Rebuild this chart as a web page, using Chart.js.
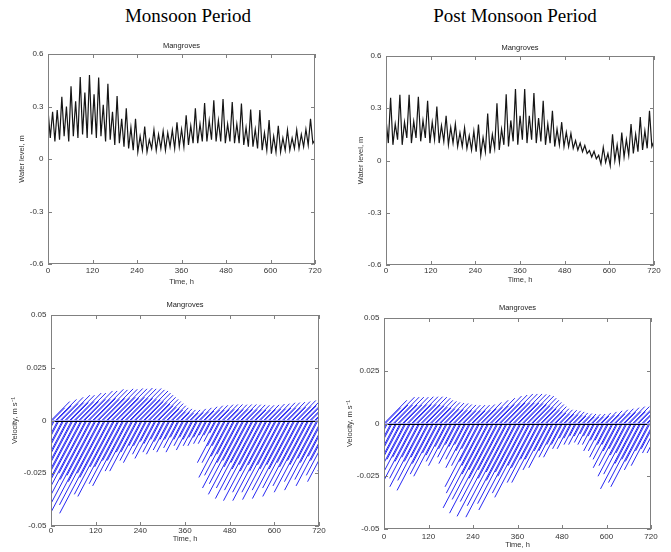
<!DOCTYPE html>
<html>
<head>
<meta charset="utf-8">
<script src="https://cdn.jsdelivr.net/npm/chart.js@4.4.1/dist/chart.umd.min.js"></script>
<style>
    body { margin: 0; background: #fff; width: 671px; height: 552px; position: relative; overflow: hidden; }
    .period { position: absolute; font-family: "Liberation Serif", "Times New Roman", serif; font-size: 19px; line-height: 19px; color: #000; white-space: nowrap; transform: translateX(-50%); }
    canvas { position: absolute; }
</style>
</head>
<body>
<div class="period" style="left:188px; top:6px;">Monsoon Period</div>
<div class="period" style="left:515px; top:6px;">Post Monsoon Period</div>
<canvas id="wlMonsoon"></canvas>
<canvas id="wlPost"></canvas>
<canvas id="velMonsoon"></canvas>
<canvas id="velPost"></canvas>
<script>
// time of each high / low water (h), shared by all panels
const tideHours = [0, 6.2, 12.4, 18.6, 24.8, 31.1, 37.3, 43.5, 49.7, 55.9, 62.1, 68.3, 74.5, 80.7, 86.9, 93.2, 99.4, 105.6, 111.8, 118.0,
    124.2, 130.4, 136.6, 142.8, 149.0, 155.3, 161.5, 167.7, 173.9, 180.1, 186.3, 192.5, 198.7, 204.9, 211.1, 217.4, 223.6, 229.8, 236.0, 242.2,
    248.4, 254.6, 260.8, 267.0, 273.2, 279.5, 285.7, 291.9, 298.1, 304.3, 310.5, 316.7, 322.9, 329.1, 335.3, 341.6, 347.8, 354.0, 360.2, 366.4,
    372.6, 378.8, 385.0, 391.2, 397.4, 403.7, 409.9, 416.1, 422.3, 428.5, 434.7, 440.9, 447.1, 453.3, 459.5, 465.8, 472.0, 478.2, 484.4, 490.6,
    496.8, 503.0, 509.2, 515.4, 521.6, 527.9, 534.1, 540.3, 546.5, 552.7, 558.9, 565.1, 571.3, 577.5, 583.7, 590.0, 596.2, 602.4, 608.6, 614.8,
    621.0, 627.2, 633.4, 639.6, 645.8, 652.1, 658.3, 664.5, 670.7, 676.9, 683.1, 689.3, 695.5, 701.7, 707.9, 714.2, 720.0,
    726.6, 732.8, 739.0, 745.2, 751.4, 757.6, 763.9, 770.1, 776.3, 782.5, 788.7, 794.9, 801.1];
// in-between sampling times for the weaker velocity arrows (h)
const quarterHours = [3.1, 9.3, 15.5, 21.7, 27.9, 34.2, 40.4, 46.6, 52.8, 59.0, 65.2, 71.4, 77.6, 83.8, 90.0, 96.3, 102.5, 108.7, 114.9, 121.1,
    127.3, 133.5, 139.7, 145.9, 152.1, 158.4, 164.6, 170.8, 177.0, 183.2, 189.4, 195.6, 201.8, 208.0, 214.2, 220.5, 226.7, 232.9, 239.1, 245.3,
    251.5, 257.7, 263.9, 270.1, 276.3, 282.6, 288.8, 295.0, 301.2, 307.4, 313.6, 319.8, 326.0, 332.2, 338.4, 344.7, 350.9, 357.1, 363.3, 369.5,
    375.7, 381.9, 388.1, 394.3, 400.5, 406.8, 413.0, 419.2, 425.4, 431.6, 437.8, 444.0, 450.2, 456.4, 462.6, 468.9, 475.1, 481.3, 487.5, 493.7,
    499.9, 506.1, 512.3, 518.5, 524.7, 531.0, 537.2, 543.4, 549.6, 555.8, 562.0, 568.2, 574.4, 580.6, 586.8, 593.1, 599.3, 605.5, 611.7, 617.9,
    624.1, 630.3, 636.5, 642.7, 648.9, 655.2, 661.4, 667.6, 673.8, 680.0, 686.2, 692.4, 698.6, 704.8, 711.0, 717.3, 723.5,
    729.7, 735.9, 742.1, 748.3, 754.5, 760.7, 767.0, 773.2, 779.4, 785.6, 791.8, 798.0, 804.2];

// water level (m): highs at even tideHours, lows at odd tideHours
const monsoonHigh = [0.28, 0.27, 0.28, 0.355, 0.30, 0.415, 0.33, 0.468, 0.38, 0.48, 0.37, 0.465, 0.31, 0.43, 0.27, 0.36, 0.23, 0.29, 0.18, 0.23,
    0.13, 0.185, 0.11, 0.166, 0.14, 0.16, 0.15, 0.165, 0.21, 0.17, 0.25, 0.19, 0.29, 0.20, 0.32, 0.22, 0.336, 0.22, 0.343, 0.20,
    0.326, 0.20, 0.317, 0.18, 0.283, 0.17, 0.28, 0.15, 0.223, 0.13, 0.19, 0.12, 0.166, 0.12, 0.166, 0.14, 0.17, 0.23, 0.11];
const monsoonLow = [0.12, 0.10, 0.11, 0.13, 0.10, 0.13, 0.12, 0.14, 0.12, 0.14, 0.12, 0.13, 0.10, 0.11, 0.08, 0.09, 0.07, 0.06, 0.05, 0.04,
    0.05, 0.04, 0.06, 0.05, 0.06, 0.05, 0.07, 0.06, 0.07, 0.07, 0.08, 0.09, 0.09, 0.10, 0.10, 0.11, 0.10, 0.10, 0.09, 0.10,
    0.09, 0.09, 0.08, 0.07, 0.07, 0.06, 0.05, 0.05, 0.03, 0.04, 0.04, 0.05, 0.05, 0.06, 0.06, 0.07, 0.08, 0.09];
const postHigh = [0.24, 0.36, 0.21, 0.377, 0.22, 0.377, 0.225, 0.366, 0.23, 0.343, 0.22, 0.31, 0.20, 0.257, 0.19, 0.21, 0.16, 0.187, 0.143, 0.168,
    0.206, 0.133, 0.27, 0.15, 0.328, 0.18, 0.38, 0.23, 0.41, 0.257, 0.41, 0.257, 0.387, 0.244, 0.343, 0.21, 0.286, 0.18, 0.22, 0.162,
    0.156, 0.114, 0.10, 0.086, 0.057, 0.053, 0.03, 0.076, 0.04, 0.15, 0.09, 0.16, 0.12, 0.21, 0.15, 0.25, 0.17, 0.285, 0.11];
const postLow = [0.10, 0.09, 0.12, 0.09, 0.13, 0.10, 0.13, 0.11, 0.13, 0.10, 0.12, 0.10, 0.11, 0.09, 0.10, 0.08, 0.08, 0.07, 0.06, 0.05,
    0.03, 0.05, 0.04, 0.07, 0.06, 0.09, 0.08, 0.11, 0.09, 0.12, 0.10, 0.12, 0.10, 0.11, 0.09, 0.10, 0.08, 0.09, 0.08, 0.08,
    0.07, 0.06, 0.05, 0.04, 0.02, 0.01, -0.02, -0.01, -0.03, 0.00, -0.01, 0.02, 0.03, 0.04, 0.05, 0.06, 0.07, 0.08];

// velocity (m/s): strong flood arrows at even tideHours, strong ebb arrows at odd tideHours
const monsoonFlood = [0.009, 0.010, 0.011, 0.012, 0.012, 0.013, 0.013, 0.014, 0.014, 0.0148, 0.0145, 0.015, 0.0148, 0.0152, 0.015, 0.0154, 0.015, 0.0152, 0.0145, 0.014,
    0.013, 0.012, 0.011, 0.010, 0.009, 0.008, 0.007, 0.006, 0.0055, 0.005, 0.005, 0.0055, 0.006, 0.0065, 0.007, 0.0072, 0.0075, 0.0076, 0.0076, 0.0075,
    0.0076, 0.0076, 0.0075, 0.0074, 0.0072, 0.0072, 0.0074, 0.0078, 0.008, 0.0084, 0.0085, 0.0087, 0.009, 0.0095, 0.010, 0.0105, 0.011, 0.011, 0.0115];
const monsoonEbb = [-0.036, -0.033, -0.040, -0.036, -0.042, -0.038, -0.044, -0.040, -0.045, -0.041, -0.046, -0.040, -0.044, -0.035, -0.036, -0.030, -0.031, -0.024, -0.024, -0.019,
    -0.020, -0.016, -0.018, -0.015, -0.016, -0.014, -0.015, -0.013, -0.015, -0.012, -0.014, -0.012, -0.012, -0.011, -0.011, -0.010, -0.020, -0.020, -0.027, -0.026,
    -0.032, -0.030, -0.035, -0.032, -0.037, -0.033, -0.038, -0.034, -0.038, -0.034, -0.0375, -0.033, -0.037, -0.032, -0.036, -0.031, -0.034, -0.029, -0.033, -0.028,
    -0.031, -0.026, -0.029, -0.024, -0.027];
const postFlood = [0.011, 0.0125, 0.0125, 0.0125, 0.0125, 0.0127, 0.0127, 0.0127, 0.0125, 0.012, 0.011, 0.0105, 0.010, 0.0097, 0.0095, 0.009, 0.0088, 0.0087, 0.0087, 0.0087,
    0.009, 0.010, 0.011, 0.012, 0.013, 0.0135, 0.014, 0.014, 0.014, 0.0138, 0.0135, 0.013, 0.012, 0.011, 0.010, 0.009, 0.008, 0.007, 0.0065, 0.0063,
    0.006, 0.0055, 0.005, 0.0047, 0.0045, 0.0044, 0.0045, 0.005, 0.0055, 0.006, 0.0065, 0.007, 0.0075, 0.008, 0.008, 0.0078, 0.0075, 0.007, 0.006];
const postEbb = [-0.026, -0.023, -0.028, -0.025, -0.029, -0.026, -0.030, -0.026, -0.030, -0.027, -0.0317, -0.024, -0.025, -0.018, -0.020, -0.016, -0.019, -0.017, -0.021, -0.020,
    -0.030, -0.033, -0.040, -0.036, -0.0425, -0.037, -0.044, -0.039, -0.0444, -0.038, -0.041, -0.033, -0.035, -0.028, -0.028, -0.022, -0.021, -0.016, -0.016, -0.012,
    -0.012, -0.010, -0.010, -0.009, -0.010, -0.010, -0.013, -0.013, -0.016, -0.017, -0.021, -0.020, -0.025, -0.024, -0.031, -0.028, -0.030, -0.022, -0.020, -0.014,
    -0.014, -0.010, -0.010, -0.007, -0.006];

// weaker arrows: flood at even quarterHours, ebb at odd quarterHours
const monsoonFloodWeak = [0.006, 0.007, 0.008, 0.0085, 0.0085, 0.009, 0.009, 0.010, 0.010, 0.0105, 0.010, 0.0105, 0.0105, 0.011, 0.0105, 0.011, 0.0105, 0.0105, 0.010, 0.0098,
    0.009, 0.0085, 0.0078, 0.007, 0.0063, 0.0056, 0.005, 0.0042, 0.0038, 0.0035, 0.0035, 0.0038, 0.0042, 0.0045, 0.005, 0.005, 0.0052, 0.0053, 0.0053, 0.0052,
    0.0053, 0.0053, 0.0052, 0.0052, 0.005, 0.005, 0.0052, 0.0055, 0.0056, 0.0059, 0.006, 0.0061, 0.0063, 0.0066, 0.007, 0.0073, 0.0077, 0.0077, 0.008];
const monsoonEbbWeak = [-0.022, -0.020, -0.025, -0.022, -0.026, -0.024, -0.028, -0.025, -0.028, -0.026, -0.029, -0.025, -0.027, -0.022, -0.022, -0.019, -0.019, -0.015, -0.015, -0.012,
    -0.012, -0.010, -0.011, -0.009, -0.010, -0.009, -0.009, -0.008, -0.009, -0.008, -0.009, -0.008, -0.008, -0.007, -0.007, -0.006, -0.012, -0.012, -0.017, -0.016,
    -0.020, -0.019, -0.022, -0.020, -0.023, -0.021, -0.024, -0.021, -0.024, -0.021, -0.023, -0.021, -0.023, -0.020, -0.022, -0.019, -0.021, -0.018, -0.020, -0.017,
    -0.019, -0.016, -0.018, -0.015, -0.017];
const postFloodWeak = [0.0075, 0.0088, 0.0088, 0.0088, 0.0088, 0.009, 0.009, 0.009, 0.0088, 0.0084, 0.0077, 0.0074, 0.007, 0.0068, 0.0066, 0.0063, 0.0062, 0.0061, 0.0061, 0.0061,
    0.0063, 0.007, 0.0077, 0.0084, 0.009, 0.0095, 0.0098, 0.0098, 0.0098, 0.0097, 0.0095, 0.009, 0.0084, 0.0077, 0.007, 0.0063, 0.0056, 0.005, 0.0046, 0.0044,
    0.0042, 0.0039, 0.0035, 0.0033, 0.0032, 0.0031, 0.0032, 0.0035, 0.0039, 0.0042, 0.0046, 0.005, 0.0053, 0.0056, 0.0056, 0.0055, 0.0053, 0.005, 0.0042];
const postEbbWeak = [-0.016, -0.014, -0.017, -0.015, -0.017, -0.016, -0.018, -0.016, -0.018, -0.016, -0.019, -0.014, -0.015, -0.011, -0.012, -0.010, -0.011, -0.010, -0.013, -0.012,
    -0.018, -0.020, -0.024, -0.022, -0.026, -0.022, -0.026, -0.023, -0.027, -0.023, -0.025, -0.020, -0.021, -0.017, -0.017, -0.013, -0.013, -0.010, -0.010, -0.007,
    -0.007, -0.006, -0.006, -0.005, -0.006, -0.006, -0.008, -0.008, -0.010, -0.010, -0.013, -0.012, -0.015, -0.014, -0.019, -0.017, -0.018, -0.013, -0.012, -0.008,
    -0.008, -0.006, -0.006, -0.004, -0.004];

const timeTicks = [0, 120, 240, 360, 480, 600, 720];
const levelTicks = [-0.6, -0.3, 0, 0.3, 0.6];
const levelTickLabels = ["-0.6", "-0.3", "0", "0.3", "0.6"];
const velTicks = [-0.05, -0.025, 0, 0.025, 0.05];
const velTickLabels = ["-0.05", "-0.025", "0", "0.025", "0.05"];

// arrow direction: hours of x per m/s of y
const floodScale = 5600;
const ebbScale = 3000;

const FONT = "'Liberation Sans', Arial, sans-serif";
Chart.defaults.font.family = FONT;

function tideSeries(highs, lows) {
    const pts = [];
    highs.forEach((h, i) => {
        pts.push({ x: tideHours[2 * i], y: h });
        if (i < lows.length) pts.push({ x: tideHours[2 * i + 1], y: lows[i] });
    });
    return pts;
}

// each arrow: from (t, 0) to (t + v*scale, v), then a gap
function arrows(hours, speeds, offset, scale) {
    const pts = [];
    speeds.forEach((v, i) => {
        const t = hours[2 * i + offset];
        pts.push({ x: t, y: 0 }, { x: t + v * scale, y: v }, { x: t, y: null });
    });
    return pts;
}

// box frame with inward ticks on all sides, and optional zero line
const framePlugin = {
    id: "frame",
    afterDatasetsDraw(chart, args, opts) {
        const { ctx, chartArea: a, scales: { x, y } } = chart;
        ctx.save();
        if (opts.zero) {
            const py = Math.round(y.getPixelForValue(0)) + 0.5;
            ctx.strokeStyle = "#000";
            ctx.lineWidth = 1;
            ctx.beginPath();
            ctx.moveTo(a.left, py);
            ctx.lineTo(a.right, py);
            ctx.stroke();
        }
        ctx.strokeStyle = "#808080";
        ctx.lineWidth = 1;
        ctx.strokeRect(Math.round(a.left) + 0.5, Math.round(a.top) + 0.5, Math.round(a.width) - 1, Math.round(a.height) - 1);
        ctx.beginPath();
        x.ticks.forEach((t) => {
            const px = Math.round(x.getPixelForValue(t.value)) + 0.5;
            ctx.moveTo(px, a.bottom); ctx.lineTo(px, a.bottom - 4);
            ctx.moveTo(px, a.top); ctx.lineTo(px, a.top + 4);
        });
        y.ticks.forEach((t) => {
            const py = Math.round(y.getPixelForValue(t.value)) + 0.5;
            ctx.moveTo(a.left, py); ctx.lineTo(a.left + 4, py);
            ctx.moveTo(a.right, py); ctx.lineTo(a.right - 4, py);
        });
        ctx.stroke();
        ctx.restore();
    }
};

function makePanel(p) {
    const cv = document.getElementById(p.id);
    const w = (p.box.r - p.box.l) + 60;
    const h = (p.box.b - p.box.t) + 22 + p.xAxisH;
    cv.width = w; cv.height = h;
    cv.style.left = (p.box.l - 48) + "px";
    cv.style.top = (p.box.t - 22) + "px";
    cv.style.width = w + "px";
    cv.style.height = h + "px";

    new Chart(cv.getContext("2d"), {
        type: "line",
        data: { datasets: p.datasets },
        options: {
            responsive: false,
            animation: false,
            devicePixelRatio: 1,
            layout: { padding: { left: 0, right: 12, top: 0, bottom: 0 } },
            elements: { point: { radius: 0 }, line: { tension: 0 } },
            plugins: {
                legend: { display: false },
                tooltip: { enabled: false },
                title: {
                    display: true,
                    fullSize: false,
                    text: "Mangroves",
                    color: "#222",
                    font: { size: 7.5, weight: "normal", family: FONT, lineHeight: 1.2 },
                    padding: { top: p.titleTop, bottom: 13 - p.titleTop }
                },
                frame: { zero: p.zero }
            },
            scales: {
                x: {
                    type: "linear",
                    min: 0,
                    max: 720,
                    afterBuildTicks: (s) => { s.ticks = timeTicks.map((v) => ({ value: v })); },
                    afterFit: (s) => { s.height = p.xAxisH; s.paddingLeft = 0; s.paddingRight = 0; },
                    grid: { display: false, drawTicks: false },
                    border: { display: false },
                    ticks: { autoSkip: false, maxRotation: 0, padding: p.xLabelPad, color: "#333", font: { size: 8 }, callback: (v) => String(v) },
                    title: { display: true, text: "Time, h", color: "#333", font: { size: 7.5, lineHeight: 1.2 }, padding: { top: 0, bottom: p.xTitlePad } }
                },
                y: {
                    type: "linear",
                    min: p.yTicks[0],
                    max: p.yTicks[p.yTicks.length - 1],
                    afterBuildTicks: (s) => { s.ticks = p.yTicks.map((v) => ({ value: v })); },
                    afterFit: (s) => { s.width = 48; s.paddingTop = 0; s.paddingBottom = 0; },
                    grid: { display: false, drawTicks: false },
                    border: { display: false },
                    ticks: { autoSkip: false, padding: 4.5, color: "#333", font: { size: 8 }, callback: (v, i) => p.yLabels[i] },
                    title: { display: true, text: p.yTitle, color: "#333", font: { size: 7.5, lineHeight: 1.2 }, padding: { top: p.yTitlePad, bottom: 0 } }
                }
            }
        },
        plugins: [framePlugin]
    });
}

function levelSet(highs, lows) {
    return [{ data: tideSeries(highs, lows), borderColor: "#151515", borderWidth: 1.2, clip: 0 }];
}

function velSet(flood, ebb, floodWeak, ebbWeak) {
    const style = { borderColor: "#1010f0", borderWidth: 0.9, spanGaps: false, clip: 0 };
    return [
        { ...style, data: arrows(tideHours, flood, 0, floodScale) },
        { ...style, data: arrows(tideHours, ebb, 1, ebbScale) },
        { ...style, data: arrows(quarterHours, floodWeak, 0, floodScale) },
        { ...style, data: arrows(quarterHours, ebbWeak, 1, ebbScale) }
    ];
}

makePanel({ id: "wlMonsoon", box: { l: 48, t: 54, r: 315, b: 264 }, xAxisH: 26, xLabelPad: 1.5, xTitlePad: 4, yTitlePad: 17, titleTop: 9.5,
    yTicks: levelTicks, yLabels: levelTickLabels, yTitle: "Water level, m", zero: false, datasets: levelSet(monsoonHigh, monsoonLow) });
makePanel({ id: "wlPost", box: { l: 386, t: 56, r: 654, b: 265 }, xAxisH: 22, xLabelPad: 0.5, xTitlePad: 2.5, yTitlePad: 18.5, titleTop: 9.5,
    yTicks: levelTicks, yLabels: levelTickLabels, yTitle: "Water level, m", zero: false, datasets: levelSet(postHigh, postLow) });
makePanel({ id: "velMonsoon", box: { l: 51, t: 315, r: 319, b: 526 }, xAxisH: 17, xLabelPad: 0, xTitlePad: 0, yTitlePad: 7.5, titleTop: 7.5,
    yTicks: velTicks, yLabels: velTickLabels, yTitle: "Velocity, m s\u207B\u00B9", zero: true,
    datasets: velSet(monsoonFlood, monsoonEbb, monsoonFloodWeak, monsoonEbbWeak) });
makePanel({ id: "velPost", box: { l: 384, t: 318, r: 651, b: 529 }, xAxisH: 22, xLabelPad: 2.5, xTitlePad: 1.5, yTitlePad: 9.5, titleTop: 7.5,
    yTicks: velTicks, yLabels: velTickLabels, yTitle: "Velocity, m s\u207B\u00B9", zero: true,
    datasets: velSet(postFlood, postEbb, postFloodWeak, postEbbWeak) });
</script>
</body>
</html>
